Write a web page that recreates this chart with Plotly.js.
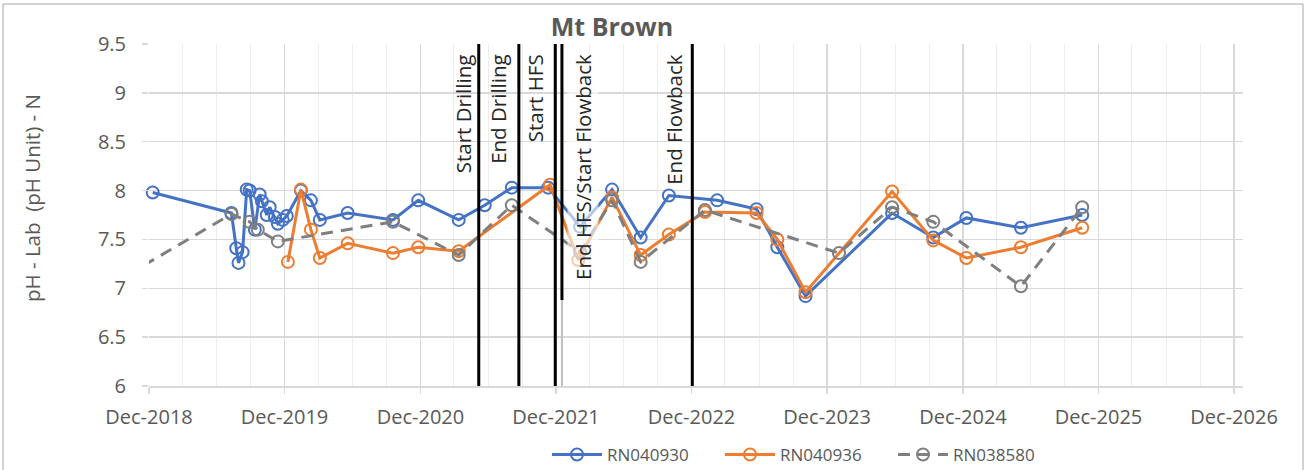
<!DOCTYPE html>
<html>
<head>
<meta charset="utf-8">
<script src="https://cdn.plot.ly/plotly-3.0.1.min.js"></script>
<style>
html,body{margin:0;padding:0;background:#fff;}
#chart{width:1307px;height:470px;}
</style>
</head>
<body>
<div id="chart"></div>
<script>
// ---- data ----
const blueName = 'RN040930';
const blueDates = ['2018-12-11','2019-07-11','2019-07-24','2019-07-30','2019-08-10','2019-08-21','2019-08-29','2019-09-12','2019-09-25','2019-10-01','2019-10-14','2019-10-22','2019-11-05','2019-11-13','2019-11-26','2019-12-07','2020-01-14','2020-02-10','2020-03-05','2020-05-19','2020-09-18','2020-11-25','2021-03-14','2021-05-23','2021-08-04','2021-11-10','2022-02-04','2022-05-01','2022-07-17','2022-10-01','2023-02-08','2023-05-25','2023-07-20','2023-10-04','2024-05-24','2024-09-12','2024-12-10','2025-05-06','2025-10-18'];
const blueVals = [7.98,7.77,7.41,7.26,7.37,8.01,8.00,7.60,7.96,7.89,7.75,7.83,7.73,7.66,7.70,7.74,8.00,7.90,7.70,7.77,7.70,7.90,7.70,7.85,8.03,8.03,7.63,8.01,7.52,7.95,7.90,7.81,7.42,6.92,7.77,7.52,7.72,7.62,7.75];

const orangeName = 'RN040936';
const orangeDates = ['2019-12-10','2020-01-14','2020-02-10','2020-03-05','2020-05-19','2020-09-18','2020-11-25','2021-03-14','2021-11-15','2022-01-30','2022-05-01','2022-07-17','2022-10-01','2023-01-06','2023-05-25','2023-07-20','2023-10-04','2024-05-24','2024-09-12','2024-12-10','2025-05-06','2025-10-18'];
const orangeVals = [7.27,8.01,7.60,7.31,7.46,7.36,7.42,7.38,8.06,7.29,7.93,7.34,7.55,7.78,7.77,7.50,6.96,7.99,7.49,7.31,7.42,7.62];

const grayName = 'RN038580';
const grayDates = ['2018-10-01','2019-07-11','2019-08-29','2019-09-20','2019-11-13','2020-09-18','2021-03-14','2021-08-04','2022-02-04','2022-05-01','2022-07-17','2023-01-06','2024-01-02','2024-05-24','2024-09-12','2025-05-06','2025-10-18'];
const grayVals = [7.13,7.76,7.68,7.60,7.48,7.68,7.34,7.85,7.37,7.90,7.27,7.80,7.36,7.83,7.68,7.02,7.83];

const eventDates = ['2021-05-07','2021-08-23','2021-11-29','2021-12-17','2022-12-03'];
const eventLabels = ['Start Drilling','End Drilling','Start HFS','End HFS/Start Flowback','End Flowback'];

const chartTitle = 'Mt Brown';
const yTitle = 'pH - Lab  (pH Unit) - N';
const xRange = ['2018-12-01','2026-12-25'];
const yRange = [6, 9.5];

// ---- style ----
const FONT = 'Open Sans, sans-serif';
const TXT = '#595959';
const labelShift = [-16,-21,-20,21,-19];
const labelBg = ['rgba(0,0,0,0)','rgba(0,0,0,0)','rgba(0,0,0,0)','rgba(255,255,255,0.6)','rgba(0,0,0,0)'];
const fullLine = [true,true,true,false,true];

function series(name, x, y, color, dash, clip) {
  return {
    type:'scatter', mode:'lines+markers', name:name, x:x, y:y,
    cliponaxis: clip,
    line:{color:color, width:3, dash:dash},
    marker:{symbol:'circle-open', size:12, color:color, line:{width:2, color:color}}
  };
}

const traces = [
  series(blueName, blueDates, blueVals, '#4472C4', 'solid', false),
  series(orangeName, orangeDates, orangeVals, '#ED7D31', 'solid', false),
  series(grayName, grayDates, grayVals, '#7F7F7F', '12px,8px', true)
];

const cut = (386-300)/342;
const shapes = [];
eventDates.forEach((d,i) => {
  shapes.push({type:'line', xref:'x', yref:'paper', x0:d, x1:d, y0:fullLine[i]?0:cut, y1:1,
    line:{color:'#000', width:3}, layer:'above'});
  if (!fullLine[i]) {
    shapes.push({type:'line', xref:'x', yref:'paper', x0:d, x1:d, y0:0, y1:cut,
      line:{color:'#bfbfbf', width:2}, layer:'above'});
  }
});
// chart border
shapes.push({type:'rect', xref:'paper', yref:'paper',
  x0:(3-149)/1094, x1:(1303-149)/1094, y0:(386-490)/342, y1:(386-4)/342,
  line:{color:'#a6a6a6', width:1}, fillcolor:'rgba(0,0,0,0)', layer:'below'});

const annotations = eventLabels.map((t,i) => ({
  text:t, x:eventDates[i], xref:'x', y:1, yref:'paper',
  xanchor:'center', yanchor:'top', xshift:labelShift[i], yshift:-8,
  textangle:-90, showarrow:false, bgcolor:labelBg[i], borderpad:1,
  font:{family:FONT, size:20.5, color:'#262626'}
}));
annotations.push({
  text:yTitle, xref:'paper', yref:'paper', x:(32-149)/1094, y:(386-198)/342,
  xanchor:'center', yanchor:'middle', textangle:-90, showarrow:false,
  font:{family:FONT, size:20.5, color:TXT}
});

const layout = {
  width:1307, height:470,
  margin:{l:149, r:64, t:44, b:84, autoexpand:false},
  paper_bgcolor:'#fff', plot_bgcolor:'#fff',
  font:{family:FONT, color:TXT},
  title:{text:chartTitle, x:612/1307, xanchor:'center', xref:'container', y:1-27/470, yanchor:'middle', yref:'container',
    font:{family:FONT, size:25, color:TXT, weight:'bold'}},
  xaxis:{type:'date', range:xRange, tick0:'2018-12-01', dtick:'M12', tickformat:'%b-%Y',
    showgrid:true, gridcolor:'#d9d9d9', gridwidth:1.5,
    ticks:'outside', ticklen:6, tickcolor:'#d9d9d9', tickwidth:1.5,
    showline:true, linecolor:'#d9d9d9', linewidth:1.5, zeroline:false,
    tickfont:{family:FONT, size:20, color:TXT}, ticklabelstandoff:6, automargin:false,
    minor:{dtick:'M3', tick0:'2018-12-01', showgrid:true, gridcolor:'#ececec', gridwidth:1, ticks:''}},
  yaxis:{range:yRange, dtick:0.5, showgrid:true, gridcolor:'#d9d9d9', gridwidth:1.5,
    ticks:'outside', ticklen:6, tickcolor:'#d9d9d9', tickwidth:1.5,
    showline:false, zeroline:false, automargin:false,
    tickfont:{family:FONT, size:20, color:TXT}, ticklabelstandoff:12},
  showlegend:true,
  legend:{orientation:'h', x:(552-5-149)/1094, xanchor:'left', y:(386-455)/342, yanchor:'middle',
    entrywidth:108, entrywidthmode:'pixels', itemwidth:50,
    font:{family:FONT, size:17, color:TXT}, bgcolor:'rgba(0,0,0,0)'},
  shapes:shapes,
  annotations:annotations
};

Plotly.newPlot('chart', traces, layout, {displayModeBar:false, staticPlot:true});
</script>
</body>
</html>
